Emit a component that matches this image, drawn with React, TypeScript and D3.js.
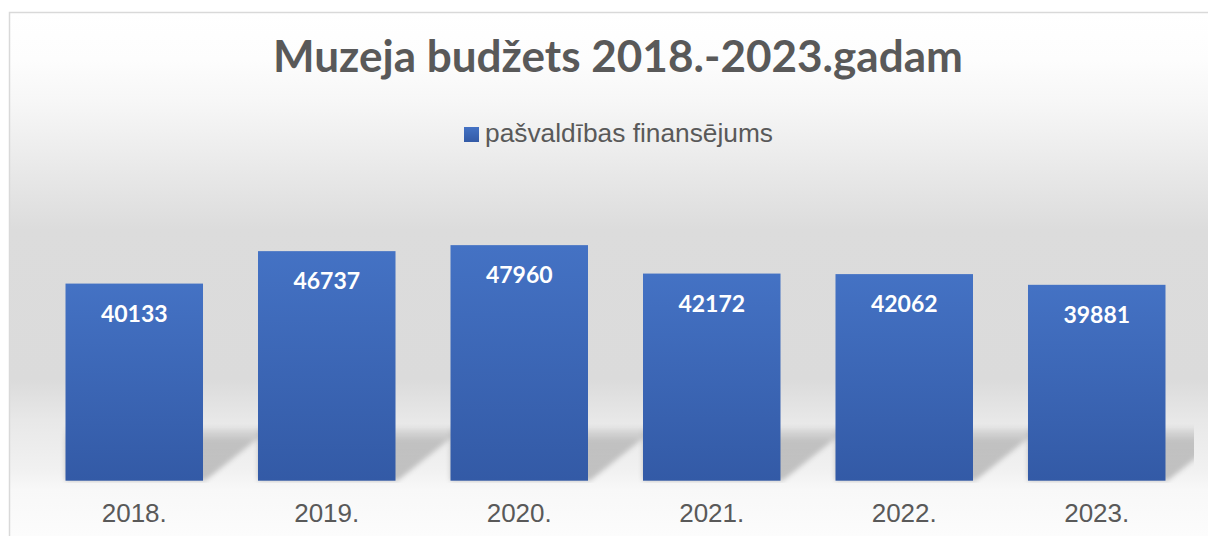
import * as d3 from 'd3'
import React from 'react'

const years = ['2018.', '2019.', '2020.', '2021.', '2022.', '2023.']
const funding = [40133, 46737, 47960, 42172, 42062, 39881]
const seriesName = 'pašvaldības finansējums'
const title = 'Muzeja budžets 2018.-2023.gadam'

const W = 1208
const H = 536
const plot = { left: 38, right: 1193, top: 186, bottom: 480.7 }

const App = () => {
  const x = d3
    .scaleBand()
    .domain(years)
    .range([plot.left, plot.right])
    .paddingInner(0.2857)
    .paddingOuter(0.1429)
  const y = d3.scaleLinear().domain([0, 60000]).range([plot.bottom, plot.top])
  const bw = x.bandwidth()

  // perspective shadow behind each bar, drawn as a blurred parallelogram
  const shadowTop = 428
  const shadow = (yr) => {
    const x0 = x(yr)
    const x1 = x0 + bw
    const pts = [
      [x0, shadowTop],
      [x1 + 68, shadowTop],
      [x1 + 2, plot.bottom],
      [x0, plot.bottom],
    ]
    return d3.line()(pts) + 'Z'
  }

  return (
    <svg
      width={W}
      height={H}
      style={{ position: 'absolute', left: 0, top: 0, display: 'block' }}
    >
      <defs>
        <linearGradient id="bg" gradientUnits="userSpaceOnUse" x1="0" y1="12" x2="0" y2="536">
          <stop offset="0" stopColor="#ffffff" />
          <stop offset="0.09" stopColor="#fdfdfd" />
          <stop offset="0.168" stopColor="#f7f7f7" />
          <stop offset="0.263" stopColor="#ededed" />
          <stop offset="0.416" stopColor="#dcdcdc" />
          <stop offset="0.702" stopColor="#dbdbdb" />
          <stop offset="0.779" stopColor="#e8e8e8" />
          <stop offset="0.874" stopColor="#f1f1f1" />
          <stop offset="0.912" stopColor="#f8f8f8" />
          <stop offset="1" stopColor="#fcfcfc" />
        </linearGradient>
        <linearGradient id="bar" x1="0" y1="0" x2="0" y2="1">
          <stop offset="0" stopColor="#4472c4" />
          <stop offset="1" stopColor="#335aa6" />
        </linearGradient>
        <linearGradient id="shd" gradientUnits="userSpaceOnUse" x1="0" y1={shadowTop} x2="0" y2={plot.bottom}>
          <stop offset="0" stopColor="#000" stopOpacity="0.05" />
          <stop offset="0.25" stopColor="#000" stopOpacity="0.18" />
          <stop offset="1" stopColor="#000" stopOpacity="0.21" />
        </linearGradient>
        <filter id="blur" x="-20%" y="-20%" width="140%" height="140%">
          <feGaussianBlur stdDeviation="2.5" />
        </filter>
        <clipPath id="plotClip">
          <rect x={plot.left} y={0} width={1194 - plot.left} height={483} />
        </clipPath>
      </defs>

      <rect x={9.5} y={12.5} width={1400} height={700} fill="url(#bg)" stroke="#d9d9d9" strokeWidth={1.5} />

      <text
        x={618}
        y={72}
        textAnchor="middle"
        fontFamily="Lato, 'Open Sans', sans-serif"
        fontWeight="bold"
        fontSize={43}
        textLength={690}
        lengthAdjust="spacingAndGlyphs"
        fill="#595959"
      >
        {title}
      </text>

      <g>
        <rect x={464} y={127} width={15} height={15} fill="url(#bar)" />
        <text x={485} y={142} fontFamily="'Liberation Sans', Arial, sans-serif" fontSize={26.3} fill="#595959">
          {seriesName}
        </text>
      </g>

      <g clipPath="url(#plotClip)">
        {years.map((yr) => (
          <path key={yr} d={shadow(yr)} fill="url(#shd)" filter="url(#blur)" />
        ))}
      </g>

      {years.map((yr, i) => (
        <g key={yr}>
          <rect
            x={x(yr)}
            y={y(funding[i])}
            width={bw}
            height={plot.bottom - y(funding[i])}
            fill="url(#bar)"
          />
          <text
            x={x(yr) + bw / 2}
            y={y(funding[i]) + 38}
            textAnchor="middle"
            fontFamily="Lato, 'Open Sans', sans-serif"
            fontWeight="bold"
            fontSize={23}
            fill="#ffffff"
          >
            {funding[i]}
          </text>
          <text
            x={x(yr) + bw / 2}
            y={522}
            textAnchor="middle"
            fontFamily="'Liberation Sans', Arial, sans-serif"
            fontSize={26}
            fill="#595959"
          >
            {yr}
          </text>
        </g>
      ))}
    </svg>
  )
}

export default App
